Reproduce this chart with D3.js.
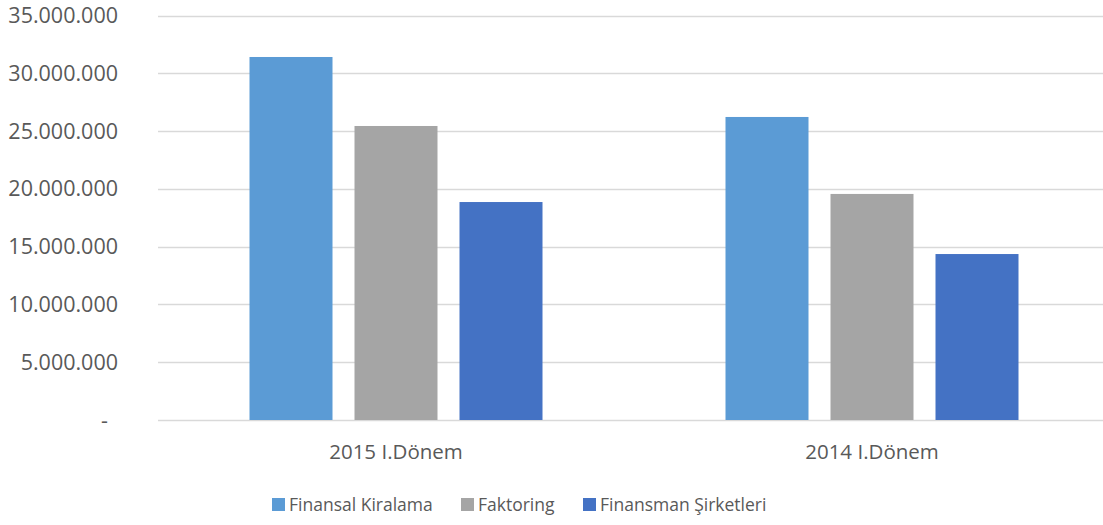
<!DOCTYPE html>
<html>
<head>
<meta charset="utf-8">
<script src="https://cdn.jsdelivr.net/npm/d3@7"></script>
<style>
  body { margin: 0; background: #fff; }
  text { font-family: "Open Sans", sans-serif; fill: #595959; }
</style>
</head>
<body>
<div id="vis"></div>
<script>
const width = 1103;
const height = 525;

// Data
const categories = ["2015 I.Dönem", "2014 I.Dönem"];
const seriesNames = ["Finansal Kiralama", "Faktoring", "Finansman Şirketleri"];
const finansalKiralama = [31410000, 26220000];
const faktoring = [25440000, 19560000];
const finansman = [18860000, 14360000];
const yTicks = [0, 5000000, 10000000, 15000000, 20000000, 25000000, 30000000, 35000000];

const colors = ["#5B9BD5", "#A5A5A5", "#4472C4"];
const seriesValues = [finansalKiralama, faktoring, finansman];

const margin = { top: 15.5, left: 158, bottom: 420 };

const svg = d3.select("#vis")
    .append("svg")
    .attr("width", width)
    .attr("height", height);

const y = d3.scaleLinear()
    .domain([0, 35000000])
    .range([margin.bottom, margin.top]);

const x0 = d3.scaleBand()
    .domain(categories)
    .range([158, 1110])
    .padding(0);

const groupWidth = 293;
const x1 = d3.scaleBand()
    .domain(seriesNames)
    .range([0, groupWidth])
    .paddingInner(0.2095)
    .paddingOuter(0);

// Gridlines
svg.append("g")
    .selectAll("line")
    .data(yTicks)
    .enter().append("line")
    .attr("x1", 158)
    .attr("x2", width)
    .attr("y1", d => Math.round(y(d)) + 0.5)
    .attr("y2", d => Math.round(y(d)) + 0.5)
    .attr("stroke", "#d9d9d9")
    .attr("stroke-width", 1.3);

// Y axis labels
const fmt = d => d === 0 ? "-" : d3.format(",")(d).replace(/,/g, ".");
svg.append("g")
    .selectAll("text")
    .data(yTicks)
    .enter().append("text")
    .attr("x", d => d === 0 ? 108 : 118)
    .attr("y", d => y(d))
    .attr("dy", "0.35em")
    .attr("text-anchor", "end")
    .style("font-size", "21.5px")
    .text(fmt);

// Bars
const group = svg.append("g")
    .selectAll("g")
    .data(categories)
    .enter().append("g")
    .attr("transform", d => `translate(${x0(d) + (x0.bandwidth() - groupWidth) / 2},0)`);

group.selectAll("rect")
    .data((d, i) => seriesNames.map((s, j) => ({ s, j, v: seriesValues[j][i] })))
    .enter().append("rect")
    .attr("x", d => x1(d.s))
    .attr("width", x1.bandwidth())
    .attr("y", d => y(d.v))
    .attr("height", d => y(0) - y(d.v))
    .attr("fill", d => colors[d.j]);

// Category labels
svg.append("g")
    .selectAll("text")
    .data(categories)
    .enter().append("text")
    .attr("x", d => x0(d) + x0.bandwidth() / 2)
    .attr("y", 452)
    .attr("dy", "0.35em")
    .attr("text-anchor", "middle")
    .style("font-size", "20.5px")
    .text(d => d);

// Legend
const legendX = [272, 461, 583];
const legend = svg.append("g")
    .selectAll("g")
    .data(seriesNames)
    .enter().append("g")
    .attr("transform", (d, i) => `translate(${legendX[i]},498)`);

legend.append("rect")
    .attr("width", 13)
    .attr("height", 13)
    .attr("fill", (d, i) => colors[i]);

legend.append("text")
    .attr("x", 17)
    .attr("y", 7)
    .attr("dy", "0.35em")
    .style("font-size", "17.5px")
    .text(d => d);
</script>
</body>
</html>
